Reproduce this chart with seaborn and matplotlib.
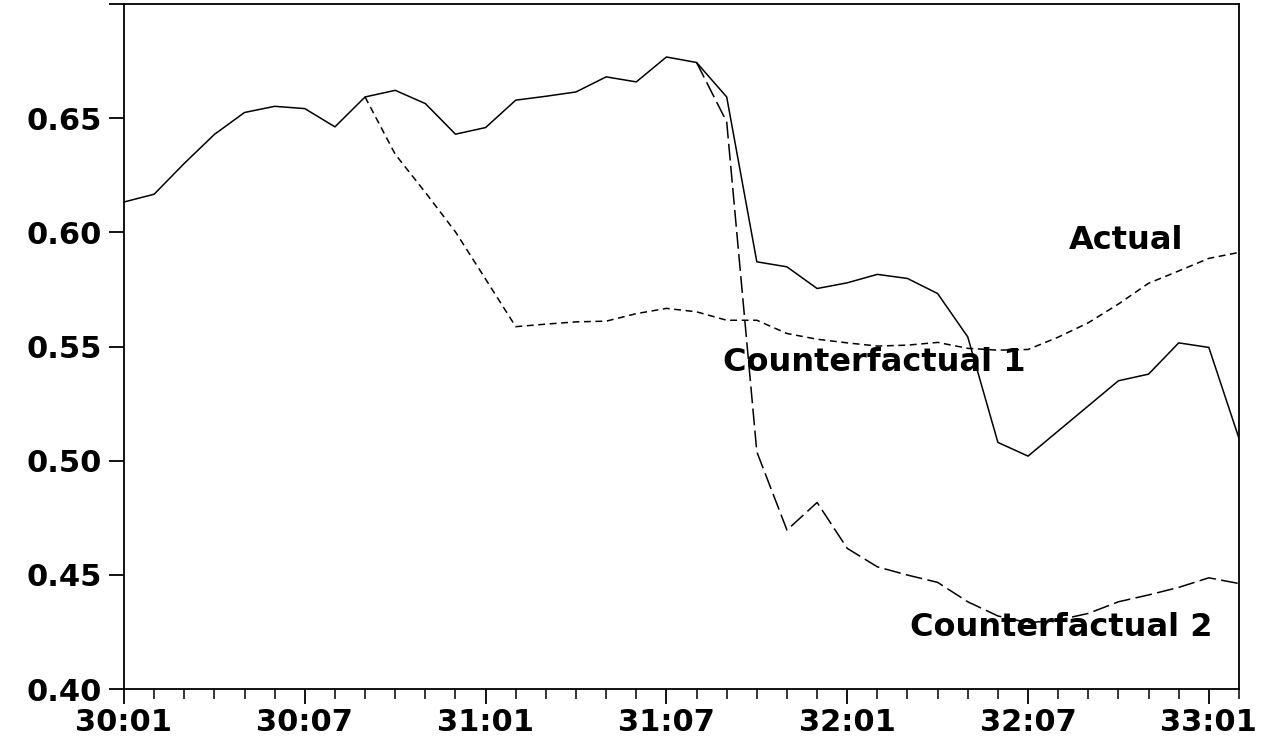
import numpy as np
import pandas as pd
import matplotlib
matplotlib.use("Agg")
import matplotlib.pyplot as plt
import seaborn as sns

# monthly periods, 30:01 .. 33:02
periods = ["30:01", "30:02", "30:03", "30:04", "30:05", "30:06", "30:07", "30:08",
           "30:09", "30:10", "30:11", "30:12", "31:01", "31:02", "31:03", "31:04",
           "31:05", "31:06", "31:07", "31:08", "31:09", "31:10", "31:11", "31:12",
           "32:01", "32:02", "32:03", "32:04", "32:05", "32:06", "32:07", "32:08",
           "32:09", "32:10", "32:11", "32:12", "33:01", "33:02"]
tick_labels = ["30:01", "30:07", "31:01", "31:07", "32:01", "32:07", "33:01"]

actual = [0.6133, 0.6167, 0.6302, 0.6429, 0.6525, 0.6552, 0.6542, 0.6462,
          0.6593, 0.6622, 0.6564, 0.6430, 0.6459, 0.6579, 0.6596, 0.6615,
          0.6681, 0.6659, 0.6768, 0.6744, 0.6593, 0.5871, 0.5849, 0.5754,
          0.5779, 0.5816, 0.5798, 0.5732, 0.5542, 0.5080, 0.5020, 0.5130,
          0.5240, 0.5350, 0.5379, 0.5516, 0.5496, 0.5098]

# counterfactual 1 starts at 30:09
cf1_start = "30:09"
cf1 = [0.6593, 0.6342, 0.6175, 0.6002, 0.5795, 0.5587, 0.5598, 0.5608,
       0.5611, 0.5644, 0.5667, 0.5652, 0.5615, 0.5615, 0.5557, 0.5532,
       0.5516, 0.5502, 0.5506, 0.5518, 0.5492, 0.5484, 0.5487, 0.5541,
       0.5604, 0.5686, 0.5777, 0.5831, 0.5886, 0.5912]

# counterfactual 2 starts at 31:08
cf2_start = "31:08"
cf2 = [0.6744, 0.6484, 0.5039, 0.4696, 0.4817, 0.4616, 0.4535, 0.4499,
       0.4467, 0.4382, 0.4320, 0.4290, 0.4302, 0.4331, 0.4382, 0.4412,
       0.4445, 0.4487, 0.4462]

yticks = [0.40, 0.45, 0.50, 0.55, 0.60, 0.65, 0.70]

pos = {p: i for i, p in enumerate(periods)}
df_act = pd.DataFrame({"t": np.arange(len(actual)), "value": actual})
s1 = pos[cf1_start]
df_cf1 = pd.DataFrame({"t": np.arange(s1, s1 + len(cf1)), "value": cf1})
s2 = pos[cf2_start]
df_cf2 = pd.DataFrame({"t": np.arange(s2, s2 + len(cf2)), "value": cf2})

sns.set_style("ticks")
plt.rcParams["font.family"] = ["DejaVu Sans"]

fig = plt.figure(figsize=(12.64, 7.46), dpi=100)
ax = fig.add_axes([0.0981, 0.0764, 0.8821, 0.9182])

sns.lineplot(data=df_act, x="t", y="value", ax=ax, color="black", lw=1.1)
sns.lineplot(data=df_cf1, x="t", y="value", ax=ax, color="black", lw=1.1,
             linestyle=(0, (4.5, 3.0)))
sns.lineplot(data=df_cf2, x="t", y="value", ax=ax, color="black", lw=1.1,
             linestyle=(0, (11, 3.5)))

ax.set_xlim(0, len(periods) - 1)
ax.set_ylim(0.40, 0.70)
ax.set_xlabel("")
ax.set_ylabel("")

ax.set_xticks([pos[p] for p in tick_labels])
ax.set_xticklabels(tick_labels)
ax.set_xticks(np.arange(len(periods)), minor=True)
ax.set_yticks(yticks)
ax.set_yticklabels(["%.2f" % v if v < 0.70 else "" for v in yticks])

for s in ax.spines.values():
    s.set_linewidth(1.3)
    s.set_color("black")
ax.tick_params(axis="both", which="major", length=11, width=1.3,
               labelsize=22, colors="black")
ax.tick_params(axis="x", which="major", pad=3)
ax.tick_params(axis="y", which="major", pad=5)
ax.tick_params(axis="x", which="minor", length=7, width=1.3)
ax.tick_params(axis="y", which="minor", length=0)
for lab in ax.get_xticklabels() + ax.get_yticklabels():
    lab.set_fontweight("bold")

txt = dict(fontsize=23, fontweight="bold", ha="center", va="baseline",
           color="black")
ax.text(33.26, 0.5926, "Actual", **txt)
ax.text(24.9, 0.5392, "Counterfactual 1", **txt)
ax.text(31.1, 0.4232, "Counterfactual 2", **txt)

fig.savefig("out.png", dpi=100)
